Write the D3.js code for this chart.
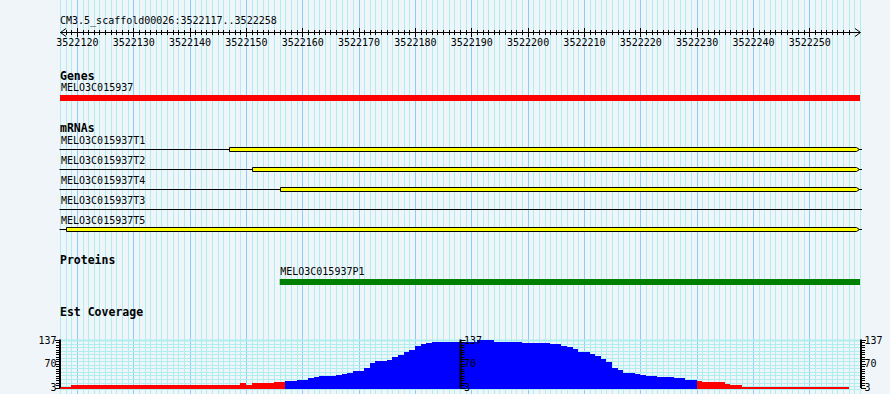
<!DOCTYPE html>
<html>
<head>
<meta charset="utf-8">
<script src="https://cdn.jsdelivr.net/npm/d3@7"></script>
<style>
  body { margin: 0; background: #f0f5fa; }
  svg { display: block; }
  text { font-family: "DejaVu Sans Mono", monospace; font-size: 10px; fill: #000; }
  .track-title { font-weight: bold; font-size: 11.5px; }
</style>
</head>
<body>
<svg id="chart" width="890" height="394"></svg>
<script>
// view: reference sequence and the displayed base range
var refName = "CM3.5_scaffold00026";
var viewStart = 3522117, viewEnd = 3522259, viewLabelEnd = 3522258;

var rulerLabels = [3522120, 3522130, 3522140, 3522150, 3522160, 3522170, 3522180,
                   3522190, 3522200, 3522210, 3522220, 3522230, 3522240, 3522250];

var trackTitles = ["Genes", "mRNAs", "Proteins", "Est Coverage"];

var geneNames = ["MELO3C015937"];
var geneStarts = [3522117];
var geneEnds = [3522259];

// mRNAs, in drawing order; cdsStarts null = no coding block
var mrnaNames = ["MELO3C015937T1", "MELO3C015937T2", "MELO3C015937T4", "MELO3C015937T3", "MELO3C015937T5"];
var mrnaStarts = [3522117, 3522117, 3522117, 3522117, 3522117];
var mrnaEnds = [3522259, 3522259, 3522259, 3522259, 3522259];
var cdsStarts = [3522147, 3522151, 3522156, null, 3522118];
var cdsEnds = [3522259, 3522259, 3522259, null, 3522259];

var proteinNames = ["MELO3C015937P1"];
var proteinStarts = [3522156];
var proteinEnds = [3522259];

// EST coverage, one value per base from viewStart
var coverage = [
  0, 4, 4, 8, 8, 8, 8, 8, 8, 8,
  10, 10, 10, 10, 10, 10, 10, 10, 10, 10,
  10, 10, 10, 10, 10, 10, 10, 10, 10, 10,
  10, 10, 10, 13, 10, 13, 13, 13, 13, 16,
  16, 21, 21, 22, 24, 27, 30, 33, 33, 33,
  36, 40, 43, 47, 47, 58, 72, 75, 75, 80,
  87, 94, 101, 108, 118, 125, 128, 131, 131, 131,
  131, 131, 131, 131, 131, 137, 135, 135, 129, 129,
  131, 131, 131, 128, 128, 128, 128, 128, 125, 123,
  118, 116, 110, 102, 102, 95, 90, 81, 73, 58,
  50, 43, 43, 40, 36, 33, 33, 30, 30, 30,
  27, 27, 24, 24, 19, 16, 16, 16, 16, 12,
  8, 8, 4, 4, 4, 4, 4, 4, 4, 4,
  4, 4, 4, 4, 4, 4, 4, 4, 4, 4,
  4, 0
];
var coverageMin = 3, coverageMax = 137, lowCoverage = 20;
var coverageLabels = [3, 70, 137];

var svg = d3.select("#chart");
var x = d3.scaleLinear().domain([viewStart, viewEnd]).range([60, 860]);
var yCov = d3.scaleLinear().domain([coverageMin, coverageMax]).range([387.5, 340]);

function px(v) { return Math.round(v) + 0.5; }

// ****************** background grid ******************
var grid = svg.append("g");
grid.selectAll("line.minor")
    .data(d3.range(viewStart, viewEnd + 1))
    .enter().append("line")
    .attr("x1", function(d) { return px(x(d)); })
    .attr("x2", function(d) { return px(x(d)); })
    .attr("y1", 0).attr("y2", 394)
    .style("stroke", function(d) { return d % 10 == 0 ? "#87cefa" : "#afeeee"; })
    .style("stroke-width", 1);

// ****************** ruler ******************
svg.append("text").attr("x", 60).attr("y", 24).text(refName + ":" + viewStart + ".." + viewLabelEnd);

var ruler = svg.append("g");
ruler.append("line").attr("x1", 60).attr("x2", 860).attr("y1", 32.5).attr("y2", 32.5)
    .style("stroke", "#000");
ruler.append("path").attr("d", "M66,28.5L60.5,32.5L66,36.5").style("fill", "none").style("stroke", "#000");
ruler.append("path").attr("d", "M855,28.5L860.5,32.5L855,36.5").style("fill", "none").style("stroke", "#000");
ruler.selectAll("line.tick")
    .data(d3.range(viewStart + 1, viewEnd - 1))
    .enter().append("line")
    .attr("x1", function(d) { return px(x(d)); })
    .attr("x2", function(d) { return px(x(d)); })
    .attr("y1", function(d) { return d % 10 == 0 ? 28 : 30; })
    .attr("y2", function(d) { return d % 10 == 0 ? 37 : 35; })
    .style("stroke", "#000");
ruler.selectAll("text.lab")
    .data(rulerLabels)
    .enter().append("text")
    .attr("x", function(d) { return x(d) + 0.5; })
    .attr("y", 46)
    .attr("text-anchor", "middle")
    .text(function(d) { return d; });

// ****************** track titles ******************
var titleY = [80, 132, 264, 316];
svg.selectAll("text.track-title")
    .data(trackTitles)
    .enter().append("text")
    .attr("class", "track-title")
    .attr("x", 60)
    .attr("y", function(d, i) { return titleY[i]; })
    .text(function(d) { return d; });

// ****************** genes ******************
geneNames.forEach(function(name, i) {
  svg.append("text").attr("x", x(geneStarts[i]) + 1).attr("y", 91).text(name);
  svg.append("rect")
      .attr("x", x(geneStarts[i])).attr("y", 95)
      .attr("width", x(geneEnds[i]) - x(geneStarts[i])).attr("height", 6)
      .style("fill", "#ff0000");
});

// ****************** mRNAs ******************
mrnaNames.forEach(function(name, i) {
  var lineY = 149.5 + i * 20;
  var g = svg.append("g");
  g.append("text").attr("x", x(mrnaStarts[i]) + 1).attr("y", lineY - 5.5).text(name);
  g.append("line")
      .attr("x1", x(mrnaStarts[i]) - 0.5).attr("x2", x(mrnaEnds[i]) + 2)
      .attr("y1", lineY).attr("y2", lineY)
      .style("stroke", "#000");
  if (cdsStarts[i] == null) return;
  var x0 = px(x(cdsStarts[i])), x1 = x(cdsEnds[i]) - 0.5;
  g.append("path")
      .attr("d", "M" + x0 + "," + (lineY - 2) + "L" + (x1 - 3) + "," + (lineY - 2) +
                 "L" + x1 + "," + lineY + "L" + (x1 - 3) + "," + (lineY + 2) +
                 "L" + x0 + "," + (lineY + 2) + "Z")
      .style("fill", "#ffff00")
      .style("stroke", "#000");
});

// ****************** proteins ******************
proteinNames.forEach(function(name, i) {
  svg.append("text").attr("x", x(proteinStarts[i]) + 0.5).attr("y", 274.5).text(name);
  svg.append("rect")
      .attr("x", x(proteinStarts[i])).attr("y", 279)
      .attr("width", x(proteinEnds[i]) - x(proteinStarts[i])).attr("height", 6)
      .style("fill", "#008000");
});

// ****************** coverage ******************
var cov = svg.append("g");
var barBottom = 389;

// horizontal grid every 10 down from the top value
var gridVals = d3.range(coverageMax, coverageMin, -10).concat([coverageMin]);
cov.selectAll("line.hgrid")
    .data(gridVals)
    .enter().append("line")
    .attr("x1", 60).attr("x2", 860)
    .attr("y1", function(d) { return d == coverageMin ? barBottom + 0.5 : px(yCov(d)); })
    .attr("y2", function(d) { return d == coverageMin ? barBottom + 0.5 : px(yCov(d)); })
    .style("stroke", "#afeeee")
    .style("stroke-width", function(d) { return d == coverageMax ? 2 : 1; });

// bars snapped to whole pixels so the thin low-coverage runs stay solid red
cov.selectAll("rect.bar")
    .data(coverage)
    .enter().append("rect")
    .filter(function(d) { return d > 0; })
    .attr("shape-rendering", "crispEdges")
    .attr("x", function(d, i) { return Math.round(x(viewStart + i)); })
    .attr("width", function(d, i) { return Math.round(x(viewStart + i + 1)) - Math.round(x(viewStart + i)); })
    .attr("y", function(d) { return Math.floor(yCov(d)); })
    .attr("height", function(d) { return barBottom - Math.floor(yCov(d)); })
    .style("fill", function(d) { return d < lowCoverage ? "#ff0000" : "#0000ff"; });

// axes: left, middle, right
var axisX = [60, 460.5, 861];
var axisSide = [-1, 1, 1];
var minorTicks = d3.range(0, 21).map(function(k) { return coverageMin + k * (coverageMax - coverageMin) / 20; });
axisX.forEach(function(ax, j) {
  var a = cov.append("g");
  a.append("line")
      .attr("x1", ax).attr("x2", ax)
      .attr("y1", yCov(coverageMax) - 0.5).attr("y2", yCov(coverageMin) + 0.5)
      .style("stroke", "#000").style("stroke-width", 2);
  a.selectAll("line.t")
      .data(minorTicks)
      .enter().append("line")
      .attr("x1", ax)
      .attr("x2", function(d, k) { return ax + axisSide[j] * (k % 10 == 0 ? 5 : 4); })
      .attr("y1", function(d) { return px(yCov(d)); })
      .attr("y2", function(d) { return px(yCov(d)); })
      .style("stroke", "#000");
  a.selectAll("text")
      .data(coverageLabels)
      .enter().append("text")
      .attr("x", ax + axisSide[j] * 3.5)
      .attr("y", function(d) { return yCov(d) + 3.5; })
      .attr("text-anchor", axisSide[j] < 0 ? "end" : "start")
      .text(function(d) { return d; });
});
</script>
</body>
</html>
